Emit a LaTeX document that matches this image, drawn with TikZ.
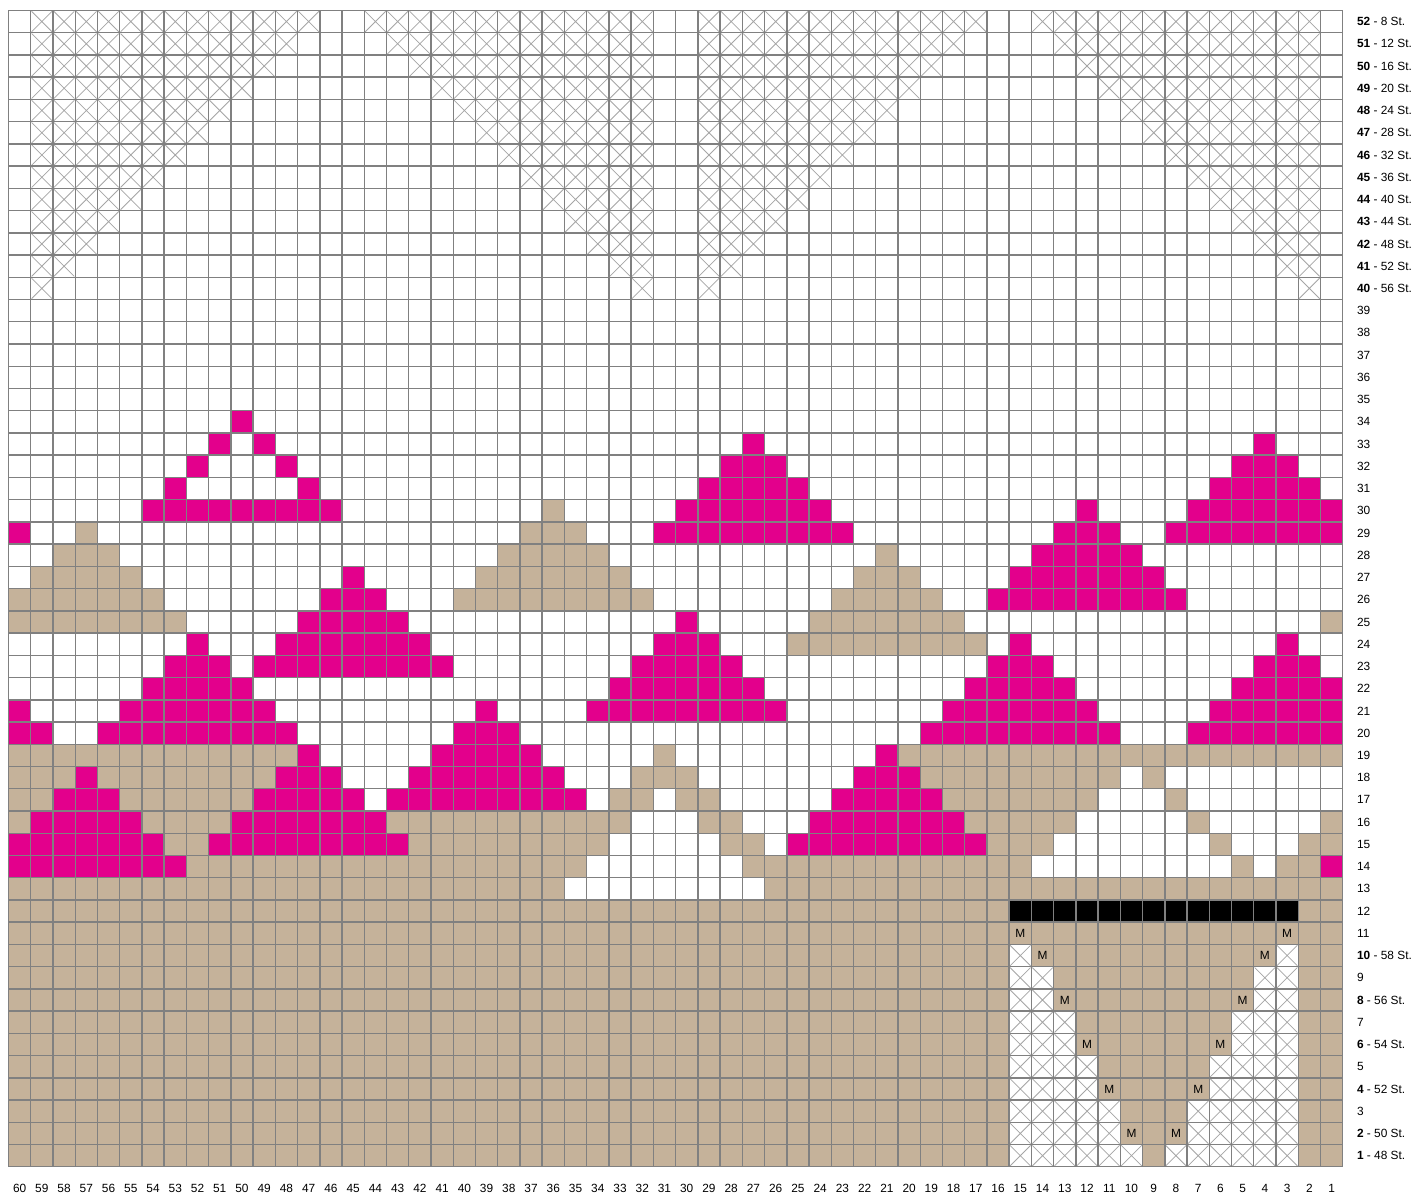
\documentclass[tikz,border=0pt]{standalone}
\usepackage{fontspec}
\setmainfont{Liberation Sans}
\usepackage{tikz}
\definecolor{knitpink}{RGB}{227,0,140}
\definecolor{knittan}{RGB}{197,178,154}
\definecolor{gridgray}{RGB}{128,128,128}
\definecolor{crossgray}{RGB}{165,165,165}
\newcommand{\knitrun}[4]{\fill[#4] (60-#2,#1-1) rectangle (61-#3,#1);}
\newcommand{\nostitch}[2]{\draw[crossline] ({60-(#2)+0.04},{(#1)-0.96}) -- ({61-(#2)-0.04},{(#1)-0.04})
  ({60-(#2)+0.04},{(#1)-0.04}) -- ({61-(#2)-0.04},{(#1)-0.96});}

\begin{document}
\begin{tikzpicture}[x=0.5cm,y=0.5cm,
    crossline/.style={crossgray,line width=0.5pt},
    gridline/.style={gridgray,line width=0.9pt},
    rowlabel/.style={anchor=west,inner sep=0pt,font=\fontsize{7.6}{9}\selectfont},
    collabel/.style={inner sep=0pt,font=\fontsize{7.6}{9}\selectfont},
    marker/.style={inner sep=0pt,font=\fontsize{7.6}{9}\selectfont}]
      \useasboundingbox (-0.382,-1.38) rectangle (63.61,52.47);
      \fill[white] (-0.382,-1.38) rectangle (63.61,52.47);
      \fill[knittan] (0,0) rectangle (60,12);
      \foreach \r/\a/\b in {30/36/36,
        29/57/57, 29/37/35,
        28/58/56, 28/38/34, 28/21/21,
        27/59/55, 27/39/33, 27/22/20,
        26/60/54, 26/40/32, 26/23/19,
        25/60/53, 25/24/18, 25/1/1,
        24/25/17,
        19/60/48, 19/31/31, 19/20/1,
        18/60/58, 18/56/49, 18/32/30, 18/19/11, 18/9/9,
        17/60/59, 17/55/50, 17/33/32, 17/30/29, 17/18/12, 17/8/8,
        16/60/60, 16/54/51, 16/43/33, 16/29/28, 16/17/13, 16/7/7, 16/1/1,
        15/53/52, 15/42/34, 15/28/27, 15/16/14, 15/6/6, 15/2/1,
        14/52/35, 14/27/15, 14/5/5, 14/3/2,
        13/60/36, 13/26/1}
        {\knitrun{\r}{\a}{\b}{knittan}}
      \foreach \r/\a/\b in {34/50/50,
        33/51/51, 33/49/49, 33/27/27, 33/4/4,
        32/52/52, 32/48/48, 32/28/26, 32/5/3,
        31/53/53, 31/47/47, 31/29/25, 31/6/2,
        30/54/46, 30/30/24, 30/12/12, 30/7/1,
        29/60/60, 29/31/23, 29/13/11, 29/8/1,
        28/14/10,
        27/45/45, 27/15/9,
        26/46/44, 26/16/8,
        25/47/43, 25/30/30,
        24/52/52, 24/48/42, 24/31/29, 24/15/15, 24/3/3,
        23/53/51, 23/49/41, 23/32/28, 23/16/14, 23/4/2,
        22/54/50, 22/33/27, 22/17/13, 22/5/1,
        21/60/60, 21/55/49, 21/39/39, 21/34/26, 21/18/12, 21/6/1,
        20/60/59, 20/56/48, 20/40/38, 20/19/11, 20/7/1,
        19/47/47, 19/41/37, 19/21/21,
        18/57/57, 18/48/46, 18/42/36, 18/22/20,
        17/58/56, 17/49/45, 17/43/35, 17/23/19,
        16/59/55, 16/50/44, 16/24/18,
        15/60/54, 15/51/43, 15/25/17,
        14/60/53, 14/1/1}
        {\knitrun{\r}{\a}{\b}{knitpink}}
      \knitrun{12}{15}{3}{black}
      \foreach \r/\a/\b in {10/15/15, 10/3/3, 9/15/14, 9/4/3, 8/15/14, 8/4/3,
        7/15/13, 7/5/3, 6/15/13, 6/5/3, 5/15/12, 5/6/3, 4/15/12, 4/6/3,
        3/15/11, 3/7/3, 2/15/11, 2/7/3, 1/15/10, 1/8/3} {
        \knitrun{\r}{\a}{\b}{white}
        \foreach \c in {\b,...,\a} {\nostitch{\r}{\c}}
      }
      \foreach \r in {40,...,52} {
        \pgfmathtruncatemacro{\k}{\r-39}
        \foreach \i in {1,...,\k} {
          \nostitch{\r}{60-\i}
          \nostitch{\r}{31+\i}
          \nostitch{\r}{30-\i}
          \nostitch{\r}{1+\i}
        }
      }
      \draw[gridline,step=0.5cm] (0,0) grid (60,52);
      \foreach \r/\c [count=\i] in {11/15, 11/3, 10/14, 10/4, 8/13, 8/5, 6/12, 6/6, 4/11, 4/7, 2/10, 2/8}
        \node[marker] (m\i) at (60.5-\c,\r-0.5) {M};
      \foreach \c in {1,...,60}
        \node[collabel] (col\c) at (60.5-\c,-0.976) {\c};
      \foreach \r in {3,5,7,9}
        \node[rowlabel] (row\r) at (60.63,\r-0.5) {\r};
      \foreach \r in {11,...,39}
        \node[rowlabel] (row\r) at (60.63,\r-0.5) {\r};
      \foreach \r/\s in {1/48, 2/50, 4/52, 6/54, 8/56, 10/58, 40/56, 41/52, 42/48, 43/44,
        44/40, 45/36, 46/32, 47/28, 48/24, 49/20, 50/16, 51/12, 52/8}
        \node[rowlabel] (row\r) at (60.63,\r-0.5) {\textbf{\r} - \s\ St.};
    \end{tikzpicture}
\end{document}
